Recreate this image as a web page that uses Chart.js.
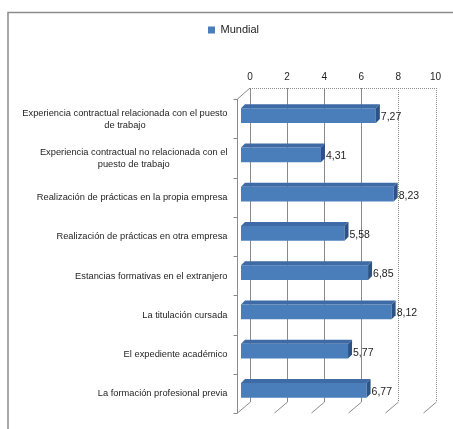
<!DOCTYPE html>
<html>
<head>
<meta charset="utf-8">
<script src="https://cdn.jsdelivr.net/npm/chart.js@4"></script>
<style>
  html, body { margin: 0; padding: 0; background: #fff; }
  #wrap { position: relative; width: 453px; height: 429px; }
</style>
</head>
<body>
<div id="wrap"><canvas id="barChart"></canvas></div>
<script>
const categories = [
    ['Experiencia contractual relacionada con el puesto', 'de trabajo'],
    ['Experiencia contractual no relacionada con el', 'puesto de trabajo'],
    ['Realización de prácticas en la propia empresa'],
    ['Realización de prácticas en otra empresa'],
    ['Estancias formativas en el extranjero'],
    ['La titulación cursada'],
    ['El expediente académico'],
    ['La formación profesional previa']
];
const mundial = [7.27, 4.31, 8.23, 5.58, 6.85, 8.12, 5.77, 6.77];
const tickValues = [0, 2, 4, 6, 8, 10];

const labelFont = '"Liberation Sans", Arial, sans-serif';

// fake 3D: back wall sits up-right of the bars, front wall down-left
const BACK = { x: 9, y: -8 };
const FRONT = { x: -4, y: 3 };
const DEPTH = { x: 4, y: 4 };

const gridColor = '#8a8a8a';

document.addEventListener("DOMContentLoaded", function() {
    const ctx = document.getElementById('barChart').getContext('2d');

    const frame3d = {
        id: 'frame3d',
        beforeDraw: function(chart) {
            const c = chart.ctx;
            c.save();
            c.fillStyle = '#fff';
            c.fillRect(0, 0, chart.width, chart.height);
            // outer border of the chart object
            c.strokeStyle = '#8c8c8c';
            c.lineWidth = 1.5;
            c.strokeRect(8, 12.5, chart.width + 20, chart.height + 20);
            c.restore();
        },
        beforeDatasetsDraw: function(chart) {
            const c = chart.ctx;
            const xs = chart.scales.x, ys = chart.scales.y;
            const top = chart.chartArea.top, bottom = chart.chartArea.bottom;
            const x0 = xs.getPixelForValue(0);
            const x10 = xs.getPixelForValue(10);
            c.save();
            c.lineWidth = 1;
            c.strokeStyle = gridColor;

            // back wall gridlines + floor diagonals
            tickValues.forEach(function(v) {
                const px = Math.round(xs.getPixelForValue(v) + BACK.x) + 0.5;
                c.setLineDash(v >= 8 ? [1, 1] : []);
                c.beginPath();
                c.moveTo(px, top + BACK.y);
                c.lineTo(px, bottom + BACK.y);
                c.stroke();
                c.setLineDash([]);
                c.beginPath();
                c.moveTo(px, bottom + BACK.y);
                c.lineTo(px - (BACK.x - FRONT.x), bottom + FRONT.y);
                c.stroke();
            });

            // top edge of back wall
            c.setLineDash([1, 1]);
            c.beginPath();
            c.moveTo(x0 + BACK.x, Math.round(top + BACK.y) + 0.5);
            c.lineTo(x10 + BACK.x, Math.round(top + BACK.y) + 0.5);
            c.stroke();
            c.setLineDash([]);

            // front-left category axis
            const fx = Math.round(x0 + FRONT.x) + 0.5;
            c.beginPath();
            c.moveTo(fx, top + FRONT.y);
            c.lineTo(fx, bottom + FRONT.y);
            c.moveTo(fx, top + FRONT.y);
            c.lineTo(x0 + BACK.x, top + BACK.y);
            c.stroke();

            // category tick marks
            const band = (bottom - top) / categories.length;
            for (let i = 0; i <= categories.length; i++) {
                const ty = Math.round(top + FRONT.y + i * band) + 0.5;
                c.beginPath();
                c.moveTo(fx - 4, ty);
                c.lineTo(fx, ty);
                c.stroke();
            }

            // category labels, right edge aligned, multi-line centred
            c.fillStyle = '#1e1e1e';
            c.font = '9.3px ' + labelFont;
            c.textBaseline = 'middle';
            c.textAlign = 'center';
            categories.forEach(function(lines, i) {
                const cy = ys.getPixelForValue(i) + 3.5;
                const w = Math.max.apply(null, lines.map(function(l) { return c.measureText(l).width; }));
                const cx = fx - 10 - w / 2;
                lines.forEach(function(l, k) {
                    c.fillText(l, cx, cy + (k - (lines.length - 1) / 2) * 12);
                });
            });
            c.restore();
        },
        afterDatasetsDraw: function(chart) {
            const c = chart.ctx;
            c.save();
            chart.getDatasetMeta(0).data.forEach(function(bar, i) {
                const left = bar.base, right = bar.x;
                const yTop = bar.y - bar.height / 2, yBot = bar.y + bar.height / 2;
                // top face
                c.fillStyle = '#3e6aa6';
                c.beginPath();
                c.moveTo(left, yTop);
                c.lineTo(left + DEPTH.x, yTop - DEPTH.y);
                c.lineTo(right + DEPTH.x, yTop - DEPTH.y);
                c.lineTo(right, yTop);
                c.closePath();
                c.fill();
                // side face
                c.fillStyle = '#2d5386';
                c.beginPath();
                c.moveTo(right, yTop);
                c.lineTo(right + DEPTH.x, yTop - DEPTH.y);
                c.lineTo(right + DEPTH.x, yBot - DEPTH.y);
                c.lineTo(right, yBot);
                c.closePath();
                c.fill();
                // value label
                c.fillStyle = '#1e1e1e';
                c.font = '10.5px ' + labelFont;
                c.textAlign = 'left';
                c.textBaseline = 'middle';
                c.fillText(mundial[i].toFixed(2).replace('.', ','), right + DEPTH.x + 1, bar.y + 1.5);
            });
            c.restore();
        }
    };

    new Chart(ctx, {
        type: 'bar',
        data: {
            labels: categories,
            datasets: [{
                label: 'Mundial',
                data: mundial,
                backgroundColor: '#4a7ebb',
                borderWidth: 0,
                categoryPercentage: 1,
                barPercentage: 0.38
            }]
        },
        options: {
            indexAxis: 'y',
            responsive: true,
            maintainAspectRatio: false,
            animation: false,
            layout: {
                padding: { top: 14.5, left: 40.5, right: 26.5, bottom: 19 }
            },
            plugins: {
                legend: {
                    position: 'top',
                    labels: {
                        boxWidth: 7,
                        boxHeight: 7,
                        color: '#1e1e1e',
                        font: { family: labelFont, size: 11 }
                    }
                },
                tooltip: { enabled: false }
            },
            scales: {
                x: {
                    position: 'top',
                    min: 0,
                    max: 10,
                    grid: { display: false, drawTicks: false },
                    border: { display: false },
                    ticks: {
                        stepSize: 2,
                        padding: 13,
                        labelOffset: BACK.x,
                        color: '#1e1e1e',
                        font: { family: labelFont, size: 10 }
                    },
                    afterFit: function(scale) { scale.height = 50.5; }
                },
                y: {
                    grid: { display: false, drawTicks: false },
                    border: { display: false },
                    ticks: { display: false },
                    afterFit: function(scale) { scale.width = 200.5; }
                }
            }
        },
        plugins: [frame3d]
    });
});
</script>
</body>
</html>
